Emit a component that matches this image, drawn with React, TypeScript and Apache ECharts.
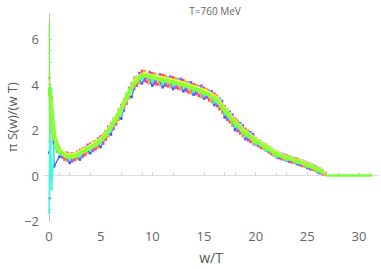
import React, { useEffect, useRef } from "react";
import * as echarts from "echarts";

const titleText = "T=760 MeV";
const xName = "w/T";
const yName = "π S(w)/(w T)";

const xLabelValues = [0, 5, 10, 15, 20, 25, 30];
const xTickValues = [1, 2, 4, 7, 9, 10, 12, 15, 17, 18, 20, 22, 23, 25, 28, 30, 31];
const yLabelValues = [-2, 0, 2, 4, 6];
const yTickValues = [-1.5, -1, -0.5, 0, 1.5, 2, 2.5, 3, 4, 4.5, 5, 5.5, 6];

const wA = [0.02, 0.1, 0.25, 0.5, 1, 1.5, 2, 2.5, 3, 3.5, 4, 4.5, 5, 5.5, 6, 6.5, 7, 7.5, 8, 8.5, 9, 9.5, 10, 10.5, 11, 11.5, 12, 12.5, 13, 13.5, 14, 14.5, 15, 15.5, 16, 16.5, 17, 17.5, 18, 18.5, 19, 19.5, 20, 20.5, 21, 21.5, 22, 22.5, 23, 23.5, 24, 24.5, 25, 25.5, 26, 26.5];
const wB = [0.05, 0.15, 0.35, 0.75, 1.25, 1.75, 2.25, 2.75, 3.25, 3.75, 4.25, 4.75, 5.25, 5.75, 6.25, 6.75, 7.25, 7.75, 8.25, 8.75, 9.25, 9.75, 10.25, 10.75, 11.25, 11.75, 12.25, 12.75, 13.25, 13.75, 14.25, 14.75, 15.25, 15.75, 16.25, 16.75, 17.25, 17.75, 18.25, 18.75, 19.25, 19.75, 20.25, 20.75, 21.25, 21.75, 22.25, 22.75, 23.25, 23.75, 24.25, 24.75, 25.25, 25.75, 26.25, 26.75];

const redVals = [3.6, 3.0, 2.5, 1.5, 1.2, 0.7, 0.95, 0.68, 1.12, 0.9, 1.4, 1.15, 1.72, 1.58, 2.3, 2.25, 3.1, 3.15, 4.05, 3.95, 4.6, 4.1, 4.5, 4.0, 4.42, 3.92, 4.32, 3.82, 4.2, 3.65, 4.02, 3.5, 3.85, 3.3, 3.6, 2.92, 3.05, 2.35, 2.5, 1.85, 2.05, 1.48, 1.64, 1.22, 1.35, 0.95, 1.06, 0.72, 0.88, 0.58, 0.74, 0.42, 0.56, 0.25, 0.35, 0.06];
const orangeVals = [4.3, 3.4, 2.0, 1.05, 1.1, 0.65, 0.98, 0.72, 1.2, 1.0, 1.48, 1.22, 1.82, 1.72, 2.5, 2.45, 3.35, 3.4, 4.3, 4.05, 4.6, 4.05, 4.48, 3.98, 4.4, 3.88, 4.28, 3.78, 4.12, 3.62, 3.98, 3.45, 3.8, 3.22, 3.52, 2.75, 2.92, 2.18, 2.42, 1.72, 1.98, 1.38, 1.55, 1.17, 1.28, 0.88, 1.0, 0.69, 0.85, 0.55, 0.7, 0.38, 0.52, 0.2, 0.3, 0.02];
const blueVals = [1.0, 1.5, 3.45, 0.4, 0.82, 0.95, 0.55, 0.95, 0.7, 1.22, 0.98, 1.5, 1.25, 1.95, 1.8, 2.62, 2.5, 3.55, 3.45, 4.3, 4.05, 4.5, 3.95, 4.38, 3.88, 4.3, 3.8, 4.22, 3.7, 4.08, 3.55, 3.92, 3.38, 3.72, 3.1, 3.38, 2.55, 2.8, 2.0, 2.3, 1.6, 1.9, 1.36, 1.48, 1.1, 1.2, 0.8, 0.95, 0.66, 0.8, 0.5, 0.64, 0.33, 0.46, 0.14, 0.22];
const purpleVals = [-1.0, 2.6, 1.9, 1.4, 0.8, 1.0, 0.62, 1.05, 0.82, 1.35, 1.08, 1.62, 1.4, 2.15, 2.05, 2.9, 2.85, 3.85, 3.8, 4.5, 4.15, 4.55, 4.02, 4.45, 3.95, 4.35, 3.85, 4.25, 3.72, 4.1, 3.58, 3.95, 3.42, 3.7, 3.05, 3.28, 2.45, 2.68, 1.95, 2.2, 1.55, 1.82, 1.3, 1.4, 1.03, 1.12, 0.76, 0.92, 0.6, 0.76, 0.46, 0.6, 0.28, 0.42, 0.1, 0.12];
const cyanVals = [-1.6, 3.0, -0.6, 1.3, 0.95, 1.0, 0.7, 0.9, 0.85, 1.18, 1.1, 1.45, 1.42, 1.9, 1.98, 2.6, 2.7, 3.6, 3.7, 4.35, 4.2, 4.5, 4.12, 4.4, 4.02, 4.32, 3.95, 4.2, 3.85, 4.05, 3.68, 3.9, 3.5, 3.68, 3.22, 3.35, 2.7, 2.75, 2.15, 2.25, 1.72, 1.85, 1.38, 1.52, 1.1, 1.22, 0.82, 0.95, 0.68, 0.8, 0.55, 0.65, 0.38, 0.46, 0.18, 0.2];
const yellowVals = [3.9, 3.6, 2.4, 1.4, 1.05, 0.92, 0.9, 1.0, 1.12, 1.24, 1.4, 1.52, 1.72, 2.05, 2.4, 2.8, 3.25, 3.75, 4.15, 4.38, 4.5, 4.42, 4.36, 4.32, 4.27, 4.22, 4.16, 4.1, 4.03, 3.95, 3.87, 3.8, 3.7, 3.58, 3.4, 3.12, 2.82, 2.53, 2.28, 2.05, 1.85, 1.68, 1.52, 1.37, 1.24, 1.1, 0.96, 0.87, 0.79, 0.72, 0.65, 0.56, 0.47, 0.37, 0.25, 0.1];
const greenVals = [3.9, 3.8, 2.9, 1.7, 1.08, 0.88, 0.8, 0.85, 0.96, 1.1, 1.22, 1.36, 1.52, 1.78, 2.12, 2.48, 2.9, 3.4, 3.88, 4.18, 4.38, 4.38, 4.3, 4.25, 4.2, 4.15, 4.1, 4.04, 3.98, 3.9, 3.82, 3.74, 3.65, 3.54, 3.4, 3.17, 2.87, 2.57, 2.32, 2.08, 1.87, 1.68, 1.52, 1.37, 1.23, 1.08, 0.94, 0.85, 0.77, 0.7, 0.63, 0.54, 0.46, 0.36, 0.26, 0.14];
const limeVals = [3.6, 3.5, 2.1, 1.22, 0.95, 0.82, 0.8, 0.88, 1.02, 1.15, 1.28, 1.42, 1.62, 1.92, 2.28, 2.67, 3.12, 3.62, 4.04, 4.3, 4.4, 4.32, 4.27, 4.22, 4.17, 4.12, 4.07, 4.02, 3.94, 3.86, 3.78, 3.7, 3.6, 3.48, 3.3, 3.02, 2.72, 2.44, 2.2, 1.97, 1.77, 1.6, 1.44, 1.3, 1.17, 1.02, 0.9, 0.82, 0.74, 0.67, 0.6, 0.51, 0.42, 0.32, 0.21, 0.07];
const spikeW = [0.02, 0.04, 0.08];
const spikeVals = [6.7, 3.5, 1.5];
const tailW = [26.9, 31.3];
const tailVals = [0, 0];

const seriesDefs = [
  { name: "s1", w: wA, v: redVals, color: "#ff4d4d", width: 1.2 },
  { name: "s2", w: wB, v: orangeVals, color: "#ff9a3c", width: 1.2 },
  { name: "s3", w: wA, v: blueVals, color: "#3d5cff", width: 1.2 },
  { name: "s4", w: wB, v: purpleVals, color: "#b547ff", width: 1.2 },
  { name: "s5", w: wA, v: cyanVals, color: "#3dfcd8", width: 1.6 },
  { name: "s6", w: wB, v: yellowVals, color: "#f2ff3d", width: 3 },
  { name: "s7", w: wA, v: greenVals, color: "#6dff3a", width: 4 },
  { name: "s8", w: wB, v: limeVals, color: "#8fff3a", width: 3 },
  { name: "spike", w: spikeW, v: spikeVals, color: "#6dff3a", width: 1.2 },
  { name: "tail", w: tailW, v: tailVals, color: "#78ff2e", width: 2.5 },
];

const FONT = "'Open Sans', 'Liberation Sans', sans-serif";

export default function App() {
  const ref = useRef<HTMLDivElement>(null);
  useEffect(() => {
    if (!ref.current) return;
    const chart = echarts.init(ref.current, null, { renderer: "svg" });
    const series: any[] = seriesDefs.map((s, i) => ({
      name: s.name,
      type: "line",
      data: s.w.map((w, j) => [w, s.v[j]]),
      showSymbol: s.width < 2 && s.name !== "spike",
      symbol: "rect",
      symbolSize: 2.5,
      lineStyle: { color: s.color, width: s.width },
      itemStyle: { color: s.color },
      silent: true,
      z: 3 + i,
      markLine:
        i === 0
          ? {
              silent: true,
              symbol: "none",
              label: { show: false },
              lineStyle: { color: "#dcdcdc", width: 1, type: "solid" },
              data: [{ yAxis: 0 }],
              z: 1,
            }
          : undefined,
    }));
    chart.setOption({
      animation: false,
      title: {
        text: titleText,
        left: 210,
        top: 1,
        textAlign: "center",
        textStyle: { fontSize: 10, color: "#666", fontWeight: "normal", fontFamily: FONT },
      },
      graphic: [
        {
          type: "text",
          x: 12,
          y: 117,
          rotation: Math.PI / 2,
          silent: true,
          style: {
            text: yName,
            align: "center",
            verticalAlign: "middle",
            fontSize: 13,
            fill: "#555",
            fontFamily: FONT,
          },
        },
      ],
      grid: { left: 43, right: 2, top: 14, bottom: 48, containLabel: false, outerBoundsMode: "none" },
      xAxis: {
        type: "value",
        min: -0.58,
        max: 31.94,
        name: xName,
        nameLocation: "middle",
        nameGap: 29,
        nameTextStyle: { fontSize: 14, color: "#555", fontFamily: FONT },
        axisLine: { show: false },
        splitLine: { show: false },
        axisTick: {
          show: true,
          customValues: xTickValues,
          length: 3,
          inside: true,
          lineStyle: { color: "#ccc" },
        },
        axisLabel: {
          customValues: xLabelValues,
          fontSize: 13,
          color: "#666",
          fontFamily: FONT,
          margin: 8,
        },
      },
      yAxis: {
        type: "value",
        min: -2,
        max: 7.1,
        axisLine: { show: true, lineStyle: { color: "#b8b8b8", width: 1 } },
        splitLine: { show: false },
        axisTick: {
          show: true,
          customValues: yTickValues,
          length: 3,
          inside: true,
          lineStyle: { color: "#ccc" },
        },
        axisLabel: {
          customValues: yLabelValues,
          fontSize: 13,
          color: "#666",
          fontFamily: FONT,
          margin: 4,
          formatter: (v: number) => (v < 0 ? "\u2212" + Math.abs(v) : String(v)),
        },
      },
      series,
    });
    return () => chart.dispose();
  }, []);
  return <div ref={ref} style={{ width: 381, height: 269, position: "absolute", left: 0, top: 0 }} />;
}
